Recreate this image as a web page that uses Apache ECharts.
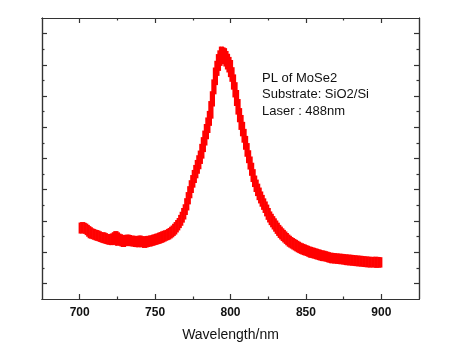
<!DOCTYPE html>
<html>
<head>
<meta charset="utf-8">
<script src="https://cdn.jsdelivr.net/npm/echarts@6/dist/echarts.min.js"></script>
<style>html,body{margin:0;padding:0;background:#fff}#c{width:456px;height:351px}</style>
</head>
<body>
<div id="c"></div>
<script>
var wavelengthStart = 700;
var intensity = [
238,215,241,218,236,210,228,200,221,197,217,193,214,190,209,186,208,183,203,180,
201,178,205,181,212,176,204,176,200,172,199,177,201,175,198,174,197,172,195,171,
198,173,194,169,196,172,197,174,199,177,202,180,205,183,209,187,213,192,216,196,
222,203,230,212,241,225,254,240,274,260,298,289,337,328,375,362,408,392,440,421,
470,455,513,497,555,537,597,583,660,661,736,720,779,752,803,765,798,750,780,731,
760,701,714,651,664,596,606,547,562,506,517,461,471,420,431,380,390,348,364,322,
339,301,317,281,297,259,275,242,260,228,246,214,232,201,221,191,211,182,201,173,
193,167,187,161,181,155,175,150,171,146,167,143,163,138,160,136,157,133,154,130,
151,127,149,126,146,123,143,120,142,119,141,118,140,117,139,116,138,114,137,113,
136,112,135,111,134,110,133,109,132,108,131,107,130,106,129,107,130,105,129,106,
128
];
var xMajorTicks = [700, 750, 800, 850, 900];
var xMinorTicks = [725, 775, 825, 875];
var yMajorTicks = [50, 150, 250, 350, 450, 550, 650, 750, 850];
var yMinorTicks = [100, 200, 300, 400, 500, 600, 700, 800];
var xTitle = 'Wavelength/nm';
var annotationLines = ['PL of MoSe2', 'Substrate: SiO2/Si', 'Laser : 488nm'];

// noisy trace drawn as the spread of each reading and its neighbours
var bandData = intensity.map(function (v, i) {
  var lo = v, hi = v;
  for (var k = -2; k <= 2; k++) {
    var w = intensity[i + k];
    if (w === undefined) continue;
    if (Math.abs(k) === 2) w = (w + v) / 2;
    lo = Math.min(lo, w); hi = Math.max(hi, w);
  }
  return [wavelengthStart + i, lo, hi];
});
var frameColor = '#333';

function xAx(pos, ticks, len, labels) {
  return {
    type: 'value', position: pos, min: 675, max: 925, interval: 50,
    axisLine: { show: true, onZero: false, lineStyle: { color: frameColor, width: 1.2 } },
    axisTick: { show: true, inside: true, length: len, customValues: ticks, lineStyle: { color: frameColor, width: 1.2 } },
    axisLabel: labels ? { show: true, customValues: ticks, color: '#111', fontSize: 12, fontWeight: 'bold', fontFamily: 'Liberation Sans, Arial', margin: 8 } : { show: false },
    splitLine: { show: false },
    name: labels ? xTitle : '', nameLocation: 'middle', nameGap: 29,
    nameTextStyle: { color: '#111', fontSize: 14, fontFamily: 'Liberation Sans, Arial' }
  };
}
function yAx(pos, ticks, len) {
  return {
    type: 'value', position: pos, min: 0, max: 900, interval: 100,
    axisLine: { show: true, onZero: false, lineStyle: { color: frameColor, width: 1.2 } },
    axisTick: { show: true, inside: true, length: len, customValues: ticks, lineStyle: { color: frameColor, width: 1.2 } },
    axisLabel: { show: false },
    splitLine: { show: false }
  };
}

var chart = echarts.init(document.getElementById('c'), null, { renderer: 'canvas' });
chart.setOption({
  animation: false,
  backgroundColor: '#fff',
  grid: { left: 42, right: 37, top: 18, bottom: 52 },
  xAxis: [
    xAx('bottom', xMajorTicks, 5, true),
    xAx('bottom', xMinorTicks, 2.5, false),
    xAx('top', xMajorTicks, 5, false),
    xAx('top', xMinorTicks, 2.5, false)
  ],
  yAxis: [
    yAx('left', yMajorTicks, 5),
    yAx('left', yMinorTicks, 2.5),
    yAx('right', yMajorTicks, 5),
    yAx('right', yMinorTicks, 2.5)
  ],
  series: [{
    type: 'custom', xAxisIndex: 0, yAxisIndex: 0,
    data: bandData,
    encode: { x: 0, y: [1, 2] },
    renderItem: function (params, api) {
      var p1 = api.coord([api.value(0), api.value(1)]);
      var p2 = api.coord([api.value(0), api.value(2)]);
      return {
        type: 'line',
        shape: { x1: p1[0], y1: p1[1] + 1.7, x2: p2[0], y2: p2[1] - 1.7 },
        style: { stroke: '#ff0000', lineWidth: 2.2 }
      };
    },
    z: 1
  }],
  graphic: [{
    type: 'text', left: 262, top: 70,
    style: {
      text: annotationLines.join('\n'),
      fill: '#111', font: '13px "Liberation Sans", Arial', lineHeight: 16.5
    }
  }]
});
</script>
</body>
</html>
